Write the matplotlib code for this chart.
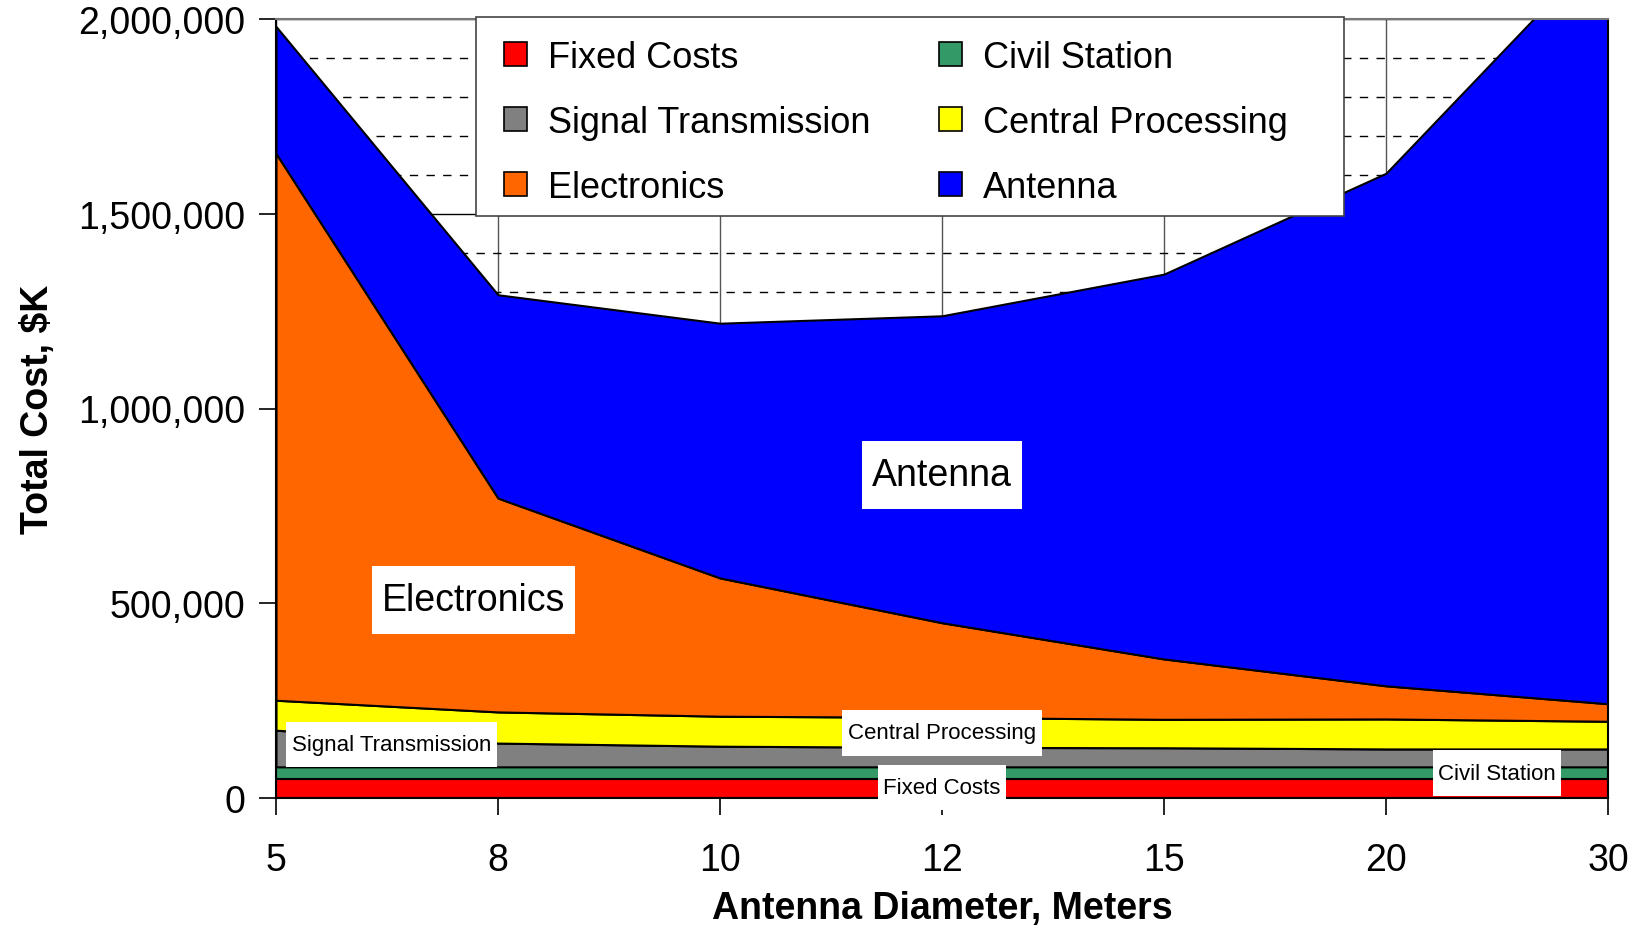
import numpy as np
import matplotlib
matplotlib.use('Agg')
import matplotlib.pyplot as plt
from matplotlib.patches import Patch, Rectangle
from matplotlib.ticker import FuncFormatter, MultipleLocator

plt.rcParams['font.family'] = ['Liberation Sans', 'DejaVu Sans']

# antenna diameters (meters) and cost components ($K), bottom to top
diameters = ['5', '8', '10', '12', '15', '20', '30']
fixed_costs = [50000, 50000, 50000, 50000, 50000, 50000, 50000]
civil_station = [30000, 30000, 30000, 30000, 30000, 30000, 30000]
signal_transmission = [94000, 61000, 53000, 50000, 49000, 46000, 46000]
central_processing = [77000, 80000, 77000, 77000, 73000, 77000, 71000]
electronics = [1404000, 549000, 355000, 243000, 155000, 85000, 45000]
antenna = [326000, 522000, 654000, 788000, 988000, 1316000, 1958000]

names = ['Fixed Costs', 'Civil Station', 'Signal Transmission',
         'Central Processing', 'Electronics', 'Antenna']
colors = ['#FF0000', '#339966', '#808080', '#FFFF00', '#FF6600', '#0000FF']

x = np.arange(len(diameters))

W, H = 1644, 928
fig = plt.figure(figsize=(W / 100, H / 100), dpi=100)
ax = fig.add_axes([276/W, 1 - 799/H, (1608 - 276)/W, (799 - 20)/H])

# grid sits behind the stacked areas
ax.set_axisbelow(True)
ax.yaxis.set_major_locator(MultipleLocator(500000))
ax.yaxis.set_minor_locator(MultipleLocator(100000))
ax.grid(axis='y', which='minor', color='black', linestyle=(0, (6, 6)), linewidth=1.0, zorder=0)
ax.grid(axis='y', which='major', color='black', linestyle='-', linewidth=1.0, zorder=0)
ax.grid(axis='x', which='major', color='#555555', linestyle='-', linewidth=1.0, zorder=0)

ax.stackplot(x, fixed_costs, civil_station, signal_transmission,
             central_processing, electronics, antenna,
             colors=colors, edgecolor='black', linewidth=1.5, zorder=2)

ax.set_xlim(0, len(diameters) - 1)
ax.set_ylim(0, 2000000)
ax.set_xticks(x)
ax.set_xticklabels(diameters)
ax.yaxis.set_major_formatter(FuncFormatter(lambda v, p: '{:,.0f}'.format(v)))
ax.tick_params(axis='both', which='major', labelsize=27, length=12, width=1.2,
               direction='out', color='black')
ax.tick_params(axis='y', which='minor', length=0)
ax.tick_params(axis='x', pad=20)
ax.tick_params(axis='y', pad=10)

for side in ['left', 'bottom', 'right']:
    ax.spines[side].set_color('black')
    ax.spines[side].set_linewidth(1.5)
ax.spines['top'].set_color('#777777')
ax.spines['top'].set_linewidth(1.5)

ax.set_xlabel('Antenna Diameter, Meters', fontsize=27, fontweight='bold', labelpad=8)
ax.set_ylabel('Total Cost, $K', fontsize=27, fontweight='bold', labelpad=16)

# labels inside the areas; mutation_aspect stretches the vertical padding
big_box = dict(boxstyle='square,pad=0.26', mutation_aspect=1.65,
               facecolor='white', edgecolor='none')
small_box = dict(boxstyle='square,pad=0.25', mutation_aspect=2.2,
                 facecolor='white', edgecolor='none')
big = dict(fontsize=27, ha='center', va='center', zorder=5)
small = dict(fontsize=16, ha='center', va='center', zorder=5)
ax.text(3.0, 830000, 'Antenna', bbox=big_box, **big)
ax.text(0.89, 508000, 'Electronics', bbox=big_box, **big)
ax.text(0.52, 137000, 'Signal Transmission', bbox=small_box, **small)
ax.text(3.0, 167000, 'Central Processing', bbox=small_box, **small)
ax.text(3.0, 27000, 'Fixed Costs', bbox=small_box, **small)
ax.text(5.5, 64000, 'Civil Station', bbox=small_box, **small)

# legend box drawn separately so its padding can differ per side
frame = Rectangle((476/W, 1 - 217/H), (1344 - 476)/W, (217 - 18)/H,
                  transform=fig.transFigure, facecolor='white',
                  edgecolor='#444444', linewidth=1.2, zorder=9)
fig.add_artist(frame)

# two-column legend, filled column by column
order = [0, 2, 4, 1, 3, 5]
handles = [Patch(facecolor=colors[i], edgecolor='black', linewidth=1.2) for i in order]
labels = [names[i] for i in order]
leg = fig.legend(handles, labels, ncol=2, fontsize=26, loc='upper left',
                 bbox_to_anchor=(504/W, 1 - 41/H),
                 bbox_transform=fig.transFigure, frameon=False,
                 handlelength=0.65, handleheight=0.65, handletextpad=0.57,
                 labelspacing=0.83, borderpad=0, borderaxespad=0, columnspacing=1.89)
leg.set_zorder(10)

fig.savefig('out.png', dpi=100)
